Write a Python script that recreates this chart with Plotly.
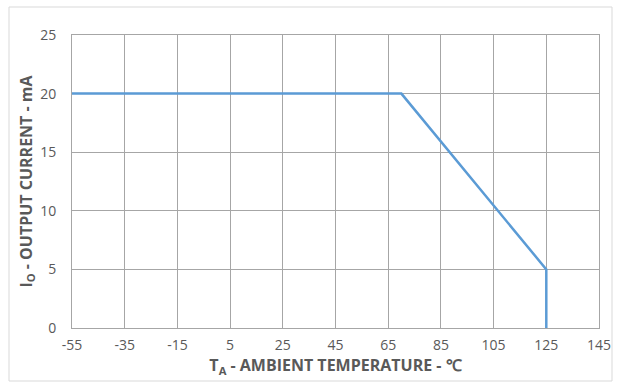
import plotly.graph_objects as go

temp_c = [-55, 70, 125, 125]
current_ma = [20, 20, 5, 0]
x_ticks = [-55, -35, -15, 5, 25, 45, 65, 85, 105, 125, 145]
y_ticks = [0, 5, 10, 15, 20, 25]

W, H = 625, 385
ml, mr, mt, mb = 72, 26, 35, 57
pw, ph = W - ml - mr, H - mt - mb

def px(xp):
    return (xp - ml) / pw

def py(yp):
    return (H - mb - yp) / ph

fig = go.Figure()
fig.add_trace(go.Scatter(x=temp_c, y=current_ma, mode="lines",
                         line=dict(color="#5B9BD5", width=2.5), showlegend=False,
                         hoverinfo="skip"))

grid = "#A6A6A6"
tickfont = dict(family="Open Sans, Liberation Sans, sans-serif", size=14, color="#595959")
titlefont = dict(family="Liberation Sans Narrow, Open Sans, sans-serif", size=16, color="#595959")

fig.update_layout(
    width=W, height=H,
    margin=dict(l=ml, r=mr, t=mt, b=mb),
    paper_bgcolor="white", plot_bgcolor="white",
    xaxis=dict(range=[-55, 145], tickvals=x_ticks, ticktext=[str(v) for v in x_ticks],
               showgrid=True, gridcolor=grid, gridwidth=1, zeroline=False,
               showline=True, linecolor=grid, linewidth=1, mirror=True,
               ticks="outside", ticklen=4, tickcolor="rgba(0,0,0,0)", tickfont=tickfont,
               title=dict(text="<b>T<sub>A</sub> - AMBIENT TEMPERATURE - ℃</b>", font=titlefont, standoff=7)),
    yaxis=dict(range=[0, 25], tickvals=y_ticks, ticktext=[str(v) for v in y_ticks],
               showgrid=True, gridcolor=grid, gridwidth=1, zeroline=False,
               showline=True, linecolor=grid, linewidth=1, mirror=True,
               ticks="outside", ticklen=12, tickcolor="rgba(0,0,0,0)", tickfont=tickfont,
               title=dict(text="<b>I<sub>O</sub> - OUTPUT CURRENT - mA</b>", font=titlefont, standoff=3)),
)

fig.add_shape(type="rect", xref="paper", yref="paper",
              x0=px(9), x1=px(612), y0=py(381), y1=py(7),
              line=dict(color="#D9D9D9", width=1), fillcolor="rgba(0,0,0,0)", layer="below")

fig.write_html("out.html")
